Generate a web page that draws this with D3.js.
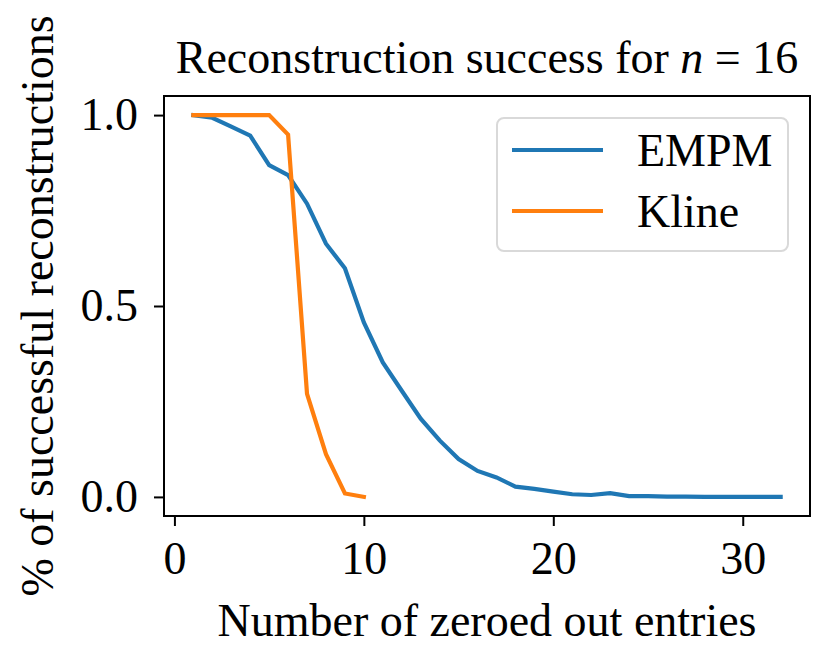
<!DOCTYPE html>
<html>
<head>
<meta charset="utf-8">
<script src="https://cdn.jsdelivr.net/npm/d3@7"></script>
<style>
  body { margin: 0; background: #fff; }
  svg text { font-family: "Liberation Serif", "DejaVu Serif", serif; fill: #000; }
</style>
</head>
<body>
<svg id="chart"></svg>
<script>
// number of zeroed out entries
const entries = d3.range(1, 33);
const empm = [1.0, 0.993, 0.97, 0.946, 0.869, 0.843, 0.768, 0.663, 0.599, 0.457,
  0.352, 0.278, 0.205, 0.148, 0.099, 0.068, 0.051, 0.027, 0.021, 0.014,
  0.007, 0.005, 0.0097, 0.002, 0.002, 0.001, 0.001, 0.0, 0.0, 0.0, 0.0, 0.0];
const klineEntries = d3.range(1, 11);
const kline = [1.0, 1.0, 1.0, 1.0, 1.0, 0.949, 0.27, 0.112, 0.009, 0.0];
const xTicks = [0, 10, 20, 30];
const yTicks = [0.0, 0.5, 1.0];
const seriesNames = ['EMPM', 'Kline'];
const colors = ['#1f77b4', '#ff7f0e'];

const width = 831, height = 664;
const frame = {left: 164, right: 810, top: 96, bottom: 516};
const fontSize = 46;

const svg = d3.select('#chart')
  .attr('width', width)
  .attr('height', height);

const x = d3.scaleLinear()
  .domain([-0.55, 33.55])
  .range([frame.left, frame.right]);
const y = d3.scaleLinear()
  .domain([-0.05, 1.05])
  .range([frame.bottom, frame.top]);

const line = d3.line()
  .x(d => x(d[0]))
  .y(d => y(d[1]));

const series = [
  d3.zip(entries, empm),
  d3.zip(klineEntries, kline)
];

svg.append('g')
  .selectAll('path')
  .data(series)
  .join('path')
  .attr('d', line)
  .attr('fill', 'none')
  .attr('stroke', (d, i) => colors[i])
  .attr('stroke-width', 4.2)
  .attr('stroke-linejoin', 'miter')
  .attr('stroke-linecap', 'square');

// axes
const xAxis = svg.append('g')
  .attr('transform', `translate(0, ${frame.bottom})`)
  .call(d3.axisBottom(x).tickValues(xTicks).tickSize(10).tickPadding(15).tickFormat(d3.format('d')));
const yAxis = svg.append('g')
  .attr('transform', `translate(${frame.left}, 0)`)
  .call(d3.axisLeft(y).tickValues(yTicks).tickSize(10).tickPadding(16).tickFormat(d3.format('.1f')));

[xAxis, yAxis].forEach(a => {
  a.select('.domain').remove();
  a.selectAll('line').attr('stroke', '#000').attr('stroke-width', 2);
  a.selectAll('text').attr('font-size', fontSize).style('font-family', '"Liberation Serif", serif');
});

svg.append('rect')
  .attr('x', frame.left)
  .attr('y', frame.top)
  .attr('width', frame.right - frame.left)
  .attr('height', frame.bottom - frame.top)
  .attr('fill', 'none')
  .attr('stroke', '#000')
  .attr('stroke-width', 2);

// title
const title = svg.append('text')
  .attr('x', (frame.left + frame.right) / 2)
  .attr('y', 73)
  .attr('text-anchor', 'middle')
  .attr('font-size', fontSize);
title.append('tspan').text('Reconstruction success for ');
title.append('tspan').attr('font-style', 'italic').text('n');
title.append('tspan').text(' = 16');

svg.append('text')
  .attr('x', (frame.left + frame.right) / 2)
  .attr('y', 636)
  .attr('text-anchor', 'middle')
  .attr('font-size', fontSize)
  .text('Number of zeroed out entries');

svg.append('text')
  .attr('transform', `translate(53, ${(frame.top + frame.bottom) / 2}) rotate(-90)`)
  .attr('text-anchor', 'middle')
  .attr('font-size', fontSize)
  .text('% of successful reconstructions');

// legend
const legend = svg.append('g');
legend.append('rect')
  .attr('x', 497)
  .attr('y', 118)
  .attr('width', 291)
  .attr('height', 133)
  .attr('rx', 7)
  .attr('fill', '#fff')
  .attr('fill-opacity', 0.8)
  .attr('stroke', '#d9d9d9')
  .attr('stroke-width', 2);

const items = legend.selectAll('g.item')
  .data(seriesNames)
  .join('g')
  .attr('class', 'item')
  .attr('transform', (d, i) => `translate(0, ${150 + i * 61})`);
items.append('line')
  .attr('x1', 512)
  .attr('x2', 603)
  .attr('stroke', (d, i) => colors[i])
  .attr('stroke-width', 4.2);
items.append('text')
  .attr('x', 637)
  .attr('y', 16)
  .attr('font-size', fontSize)
  .text(d => d);
</script>
</body>
</html>
